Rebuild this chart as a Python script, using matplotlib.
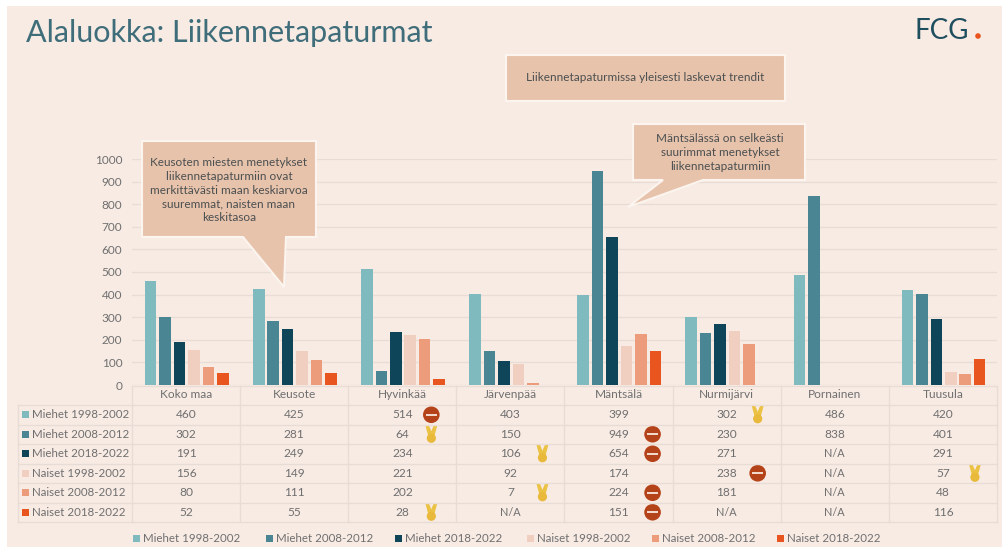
import numpy as np
import matplotlib
matplotlib.use("Agg")
import matplotlib.pyplot as plt
from matplotlib.patches import Rectangle, Polygon, Circle

plt.rcParams['font.family'] = ['Lato', 'DejaVu Sans']

# Data (nan = N/A)
kunnat = ["Koko maa", "Keusote", "Hyvinkää", "Järvenpää", "Mäntsälä", "Nurmijärvi", "Pornainen", "Tuusula"]
sarjat = ["Miehet 1998-2002", "Miehet 2008-2012", "Miehet 2018-2022",
          "Naiset 1998-2002", "Naiset 2008-2012", "Naiset 2018-2022"]
miehet_98 = [460, 425, 514, 403, 399, 302, 486, 420]
miehet_08 = [302, 281, 64, 150, 949, 230, 838, 401]
miehet_18 = [191, 249, 234, 106, 654, 271, np.nan, 291]
naiset_98 = [156, 149, 221, 92, 174, 238, np.nan, 57]
naiset_08 = [80, 111, 202, 7, 224, 181, np.nan, 48]
naiset_18 = [52, 55, 28, np.nan, 151, np.nan, np.nan, 116]
arvot = [miehet_98, miehet_08, miehet_18, naiset_98, naiset_08, naiset_18]
y_ticks = [0, 100, 200, 300, 400, 500, 600, 700, 800, 900, 1000]

# Icons in the table: (row, column)
huonot = [(0, 2), (1, 4), (2, 4), (3, 5), (4, 4), (5, 4)]
mitalit = [(1, 2), (5, 2), (2, 3), (4, 3), (0, 5), (3, 7)]
# Icon distance from the middle of the column, px
ikoni_siirto = {2: 29, 3: 32, 4: 34, 5: 31, 7: 32}

varit = ["#7FBBBE", "#4A8594", "#0F4559", "#F0CFC0", "#EC9C7A", "#E8551F"]
tausta = "#F8EBE4"
laatikko = "#E8C3AC"
viiva = "#E8DDD6"
teksti = "#6F6F6F"

W, H = 1003, 547
fig = plt.figure(figsize=(W / 100, H / 100), dpi=100, facecolor="white")

# Background panel
ax_bg = fig.add_axes([7 / W, 0, (W - 7) / W, (H - 6) / H], zorder=-1)
ax_bg.set_facecolor(tausta)
ax_bg.set_xticks([])
ax_bg.set_yticks([])
for s in ax_bg.spines.values():
    s.set_visible(False)

# Chart area: x from 132 to 997 px, y from 385 (0) to 159 (1000) px
x0, x1 = 132, 997
y0, y1 = 385, 159
ax = fig.add_axes([x0 / W, (H - y0) / H, (x1 - x0) / W, (y0 - y1) / H], zorder=1)
ax.patch.set_visible(False)
paikat = np.arange(len(kunnat))
for i, rivi in enumerate(arvot):
    ax.bar(paikat + (i - 2.5) * 0.1335 + 0.006, np.nan_to_num(rivi), width=0.107, color=varit[i], zorder=3)
ax.set_xlim(-0.5, len(kunnat) - 0.5)
ax.set_ylim(0, 1000)
ax.set_yticks(y_ticks)
ax.set_xticks([])
ax.tick_params(axis="y", length=0, pad=7, labelsize=8.5, labelcolor=teksti)
ax.grid(axis="y", color=viiva, linewidth=1, zorder=0)
for s in ax.spines.values():
    s.set_visible(False)

# Overlay in pixel coordinates for the table, callouts and titles
px = fig.add_axes([0, 0, 1, 1], zorder=2)
px.set_xlim(0, W)
px.set_ylim(H, 0)
px.axis("off")

# Table
sarake = (x1 - x0) / len(kunnat)
rivi_y = [386, 405, 424.5, 444, 463.5, 483, 502.5, 522]
for y in rivi_y[1:]:
    px.plot([18, x1], [y, y], color=viiva, lw=1)
px.plot([x0, x1], [rivi_y[0], rivi_y[0]], color=viiva, lw=1)
px.plot([18, 18], [rivi_y[1], rivi_y[-1]], color=viiva, lw=1)
for j in range(len(kunnat) + 1):
    px.plot([x0 + j * sarake] * 2, [rivi_y[0], rivi_y[-1]], color=viiva, lw=1)
for j, k in enumerate(kunnat):
    px.text(x0 + (j + 0.5) * sarake, 395, k, ha="center", va="center", fontsize=8.6, color=teksti)
for i, nimi in enumerate(sarjat):
    y = (rivi_y[i + 1] + rivi_y[i + 2]) / 2
    px.add_patch(Rectangle((22, y - 3.5), 7, 7, color=varit[i], lw=0))
    px.text(32, y, nimi, ha="left", va="center", fontsize=8.3, color=teksti)
    for j, v in enumerate(arvot[i]):
        merkki = "N/A" if np.isnan(v) else str(v)
        px.text(x0 + (j + 0.5) * sarake, y, merkki, ha="center", va="center",
                fontsize=7.8 if np.isnan(v) else 8.6, color=teksti)

# Icons
for rivi, sar in huonot:
    x = x0 + (sar + 0.5) * sarake + ikoni_siirto[sar]
    y = (rivi_y[rivi + 1] + rivi_y[rivi + 2]) / 2
    px.add_patch(Circle((x, y), 8.3, color="#B5431A", lw=0))
    px.add_patch(Rectangle((x - 5.5, y - 1), 11, 2, color="#F3D9CC", lw=0))
for rivi, sar in mitalit:
    x = x0 + (sar + 0.5) * sarake + ikoni_siirto[sar]
    y = (rivi_y[rivi + 1] + rivi_y[rivi + 2]) / 2
    px.add_patch(Polygon([(x - 6, y - 9), (x - 2.5, y - 9), (x, y - 3), (x + 2.5, y - 9), (x + 6, y - 9),
                          (x + 3, y + 2), (x - 3, y + 2)], color="#EBC244", lw=0))
    px.add_patch(Circle((x, y + 4), 4.6, color="#E8B93A", lw=0))

# Legend at the bottom
selite_x = [133, 266, 395, 527, 652, 777]
for i, nimi in enumerate(sarjat):
    px.add_patch(Rectangle((selite_x[i], 534.5), 7, 7, color=varit[i], lw=0))
    px.text(selite_x[i] + 10, 538, nimi, ha="left", va="center", fontsize=8.3, color=teksti)

# Callouts
def laatikko_kuva(pisteet):
    px.add_patch(Polygon(pisteet, closed=True, facecolor=laatikko, edgecolor="#FBF4EF", lw=1.5, zorder=5))

laatikko_kuva([(142, 141), (316, 141), (316, 237), (286, 237), (284, 287), (243, 237), (142, 237)])
px.text(229, 190, "Keusoten miesten menetykset\nliikennetapaturmiin ovat\nmerkittävästi maan keskiarvoa\nsuuremmat, naisten maan\nkeskitasoa",
        ha="center", va="center", fontsize=8.5, color="#4A4F50", linespacing=1.33, zorder=6)
laatikko_kuva([(633, 124), (805, 124), (805, 180), (703, 180), (628, 207), (663, 180), (633, 180)])
px.text(720, 152.5, "Mäntsälässä on selkeästi\nsuurimmat menetykset\nliikennetapaturmiin",
        ha="center", va="center", fontsize=8.5, color="#4A4F50", linespacing=1.33, zorder=6)
laatikko_kuva([(506, 55), (785, 55), (785, 101), (506, 101)])
px.text(645, 77.5, "Liikennetapaturmissa yleisesti laskevat trendit",
        ha="center", va="center", fontsize=8.5, color="#4A4F50", zorder=6)

# Title and logo
px.text(26, 33, "Alaluokka: Liikennetapaturmat", ha="left", va="center",
        fontsize=22, color="#3F6E7A")
px.text(915, 31, "FCG", ha="left", va="center", fontsize=20, color="#1F4E5F")
px.add_patch(Circle((978, 36), 2.8, color="#E8551F", lw=0))

fig.savefig("out.png", dpi=100)
